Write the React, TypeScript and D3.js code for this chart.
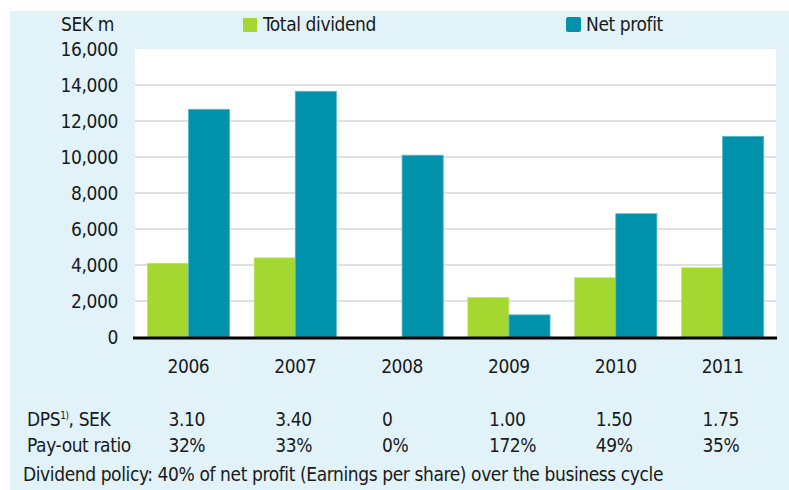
import * as d3 from "d3";

const years = ["2006", "2007", "2008", "2009", "2010", "2011"];
const totalDividend = [4100, 4400, 0, 2200, 3300, 3850];
const netProfit = [12650, 13650, 10100, 1230, 6850, 11150];
const dps = ["3.10", "3.40", "0", "1.00", "1.50", "1.75"];
const payout = ["32%", "33%", "0%", "172%", "49%", "35%"];
const yTicks = [0, 2000, 4000, 6000, 8000, 10000, 12000, 14000, 16000];

const W = 789;
const H = 490;
const GREEN = "#a4d730";
const TEAL = "#0092aa";
const FONT = "'DejaVu Sans Condensed', 'DejaVu Sans', sans-serif";

export default function App() {
  const plot = { left: 135, right: 776, top: 49, bottom: 337 };

  const x = d3
    .scaleBand<string>()
    .domain(years)
    .range([plot.left, plot.right])
    .paddingInner(0.23)
    .paddingOuter(0.115);
  const sub = d3
    .scaleBand<string>()
    .domain(["div", "np"])
    .range([0, x.bandwidth()]);
  const y = d3.scaleLinear().domain([0, 16000]).range([plot.bottom, plot.top]);
  const fmt = d3.format(",");

  const center = (yr: string) => (x(yr) ?? 0) + x.bandwidth() / 2;

  return (
    <svg
      width={W}
      height={H}
      style={{ position: "absolute", left: 0, top: 0, letterSpacing: "-0.4px" }}
      fontFamily={FONT}
      fontSize={19}
      fill="#1a1a1a"
    >
      <rect x={10} y={11} width={W - 10} height={H - 11} fill="#e1f3f8" />
      <rect
        x={plot.left}
        y={plot.top}
        width={plot.right - plot.left}
        height={plot.bottom - plot.top}
        fill="#ffffff"
      />

      {/* grid */}
      {yTicks.slice(1, -1).map((t) => (
        <line
          key={t}
          x1={plot.left}
          x2={plot.right}
          y1={y(t)}
          y2={y(t)}
          stroke="#d6d6d6"
          strokeWidth={1.5}
        />
      ))}

      {/* y labels */}
      {yTicks.map((t) => (
        <text key={t} x={118} y={y(t) + 7} textAnchor="end">
          {fmt(t)}
        </text>
      ))}
      <text x={61} y={31}>SEK m</text>

      {/* bars */}
      {years.map((yr, i) => (
        <g key={yr} transform={`translate(${x(yr)},0)`}>
          {totalDividend[i] > 0 && (
            <rect
              x={sub("div")}
              y={y(totalDividend[i])}
              width={sub.bandwidth()}
              height={y(0) - y(totalDividend[i])}
              fill={GREEN}
              stroke="#c2e67a"
              strokeWidth={0.6}
            />
          )}
          <rect
            x={sub("np")}
            y={y(netProfit[i])}
            width={sub.bandwidth()}
            height={y(0) - y(netProfit[i])}
            fill={TEAL}
            stroke="#5ab8c8"
            strokeWidth={0.8}
          />
        </g>
      ))}

      {/* zero line */}
      <line
        x1={plot.left - 2}
        x2={plot.right + 1}
        y1={y(0) + 1}
        y2={y(0) + 1}
        stroke="#000"
        strokeWidth={3}
      />

      {/* year labels */}
      {years.map((yr) => (
        <text key={yr} x={center(yr)} y={373} textAnchor="middle">
          {yr}
        </text>
      ))}

      {/* legend */}
      <rect x={243} y={18} width={14} height={14} fill={GREEN} />
      <text x={263} y={31}>Total dividend</text>
      <rect x={566} y={17} width={15} height={15} rx={2} fill={TEAL} />
      <text x={586} y={31}>Net profit</text>

      {/* table */}
      <text x={27} y={426}>
        DPS
        <tspan fontSize={10} dy={-7}>1)</tspan>
        <tspan dy={7}>, SEK</tspan>
      </text>
      {years.map((yr, i) => (
        <text key={"d" + yr} x={center(yr) - 20} y={426}>
          {dps[i]}
        </text>
      ))}
      <text x={27} y={452}>Pay-out ratio</text>
      {years.map((yr, i) => (
        <text key={"p" + yr} x={center(yr) - 20} y={452}>
          {payout[i]}
        </text>
      ))}
      <text x={23} y={481}>
        Dividend policy: 40% of net profit (Earnings per share) over the business cycle
      </text>
    </svg>
  );
}
